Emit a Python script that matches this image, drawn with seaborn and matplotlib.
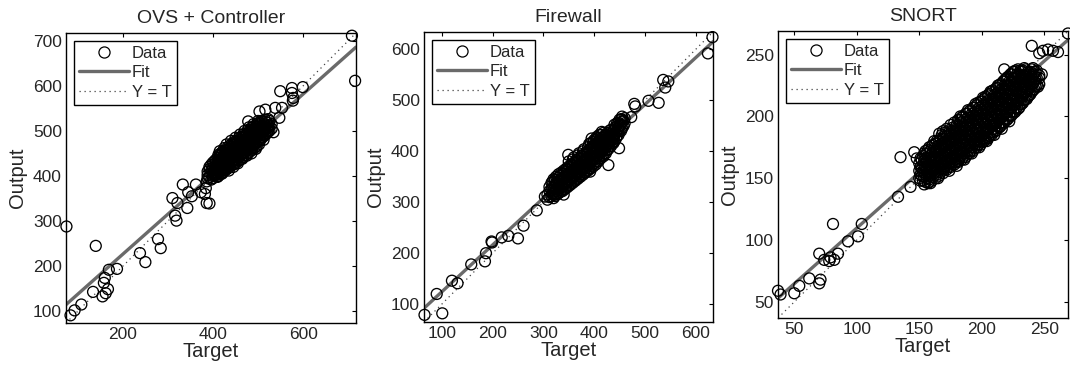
import numpy as np
import pandas as pd
import matplotlib
matplotlib.use("Agg")
import matplotlib.pyplot as plt
from matplotlib.lines import Line2D
import seaborn as sns

# ---------------- data ----------------
titles = ["OVS + Controller", "Firewall", "SNORT"]

# OVS + Controller : (target, output)
ovs_pairs = [
    (388, 395), (388, 402), (388, 410), (392, 398), (392, 415), (392, 420),
    (396, 392), (396, 405), (396, 425), (396, 412), (400, 400), (400, 408),
    (400, 418), (400, 430), (400, 395), (405, 403), (405, 412), (405, 422),
    (405, 435), (410, 405), (410, 415), (410, 426), (410, 440), (410, 398),
    (415, 410), (415, 420), (415, 432), (415, 445), (415, 455), (420, 412),
    (420, 424), (420, 436), (420, 448), (420, 405), (425, 418), (425, 428),
    (425, 440), (425, 452), (425, 462), (430, 420), (430, 432), (430, 444),
    (430, 456), (430, 470), (435, 425), (435, 437), (435, 448), (435, 460),
    (435, 412), (440, 428), (440, 440), (440, 452), (440, 465), (440, 478),
    (445, 432), (445, 444), (445, 456), (445, 468), (445, 420), (450, 436),
    (450, 448), (450, 460), (450, 472), (450, 485), (455, 440), (455, 452),
    (455, 464), (455, 476), (455, 428), (460, 444), (460, 456), (460, 468),
    (460, 480), (460, 492), (465, 448), (465, 460), (465, 472), (465, 484),
    (465, 438), (470, 452), (470, 464), (470, 476), (470, 488), (470, 500),
    (475, 456), (475, 468), (475, 480), (475, 492), (475, 445), (480, 460),
    (480, 472), (480, 484), (480, 496), (480, 508), (485, 462), (485, 476),
    (485, 488), (485, 500), (485, 450), (490, 468), (490, 480), (490, 492),
    (490, 504), (490, 515), (495, 472), (495, 484), (495, 496), (495, 508),
    (495, 460), (500, 476), (500, 488), (500, 500), (500, 512), (500, 522),
    (505, 480), (505, 492), (505, 504), (505, 516), (510, 486), (510, 498),
    (510, 510), (510, 520), (515, 490), (515, 502), (515, 514), (515, 525),
    (520, 495), (520, 506), (520, 518), (525, 500), (525, 512), (525, 522),
    (530, 505), (530, 515),
    # outliers
    (708, 711), (715, 611), (599, 597), (549, 588), (575, 595), (575, 584),
    (578, 573), (577, 567), (538, 551), (553, 551), (547, 529), (516, 547),
    (503, 543), (534, 497), (478, 521), (362, 381), (333, 381), (310, 351),
    (345, 364), (353, 355), (343, 329), (321, 340), (316, 312), (319, 301),
    (373, 364), (382, 360), (386, 340), (392, 339), (384, 373), (386, 388),
    (408, 403), (75, 288), (140, 245), (278, 260), (284, 240), (238, 229),
    (250, 209), (187, 194), (169, 192), (160, 174), (158, 163), (134, 143),
    (167, 149), (162, 140), (155, 133), (108, 115), (93, 102), (84, 91),
]
# extra rows inside the dense OVS blob: target -> outputs
ovs_fill_rows = {
    402: [404, 414, 425], 407: [398, 408, 418, 430],
    412: [400, 410, 421, 434, 447], 417: [405, 415, 426, 438, 450],
    422: [408, 418, 430, 442, 455], 427: [412, 423, 434, 446, 457],
    432: [416, 426, 438, 450, 463], 437: [420, 431, 442, 454, 467],
    442: [424, 434, 446, 458, 472], 447: [426, 438, 450, 462, 476],
    452: [430, 442, 454, 466, 478], 457: [434, 446, 458, 470, 484],
    462: [438, 450, 462, 474, 486], 467: [442, 454, 466, 478, 492],
    472: [446, 458, 470, 482, 494], 477: [450, 462, 474, 486, 502],
    482: [454, 466, 478, 490, 502], 487: [458, 470, 482, 494, 508],
    492: [462, 474, 486, 498, 510], 497: [466, 478, 490, 502, 516],
    502: [470, 482, 494, 506, 518], 507: [486, 498, 510, 522],
    512: [480, 492, 504, 515], 517: [496, 508, 520], 522: [500, 512, 526],
}

# Firewall : (target, output)
fw_pairs = [
    (308, 305), (308, 315), (312, 310), (312, 322), (312, 330), (316, 312),
    (316, 325), (316, 338), (320, 308), (320, 318), (320, 330), (320, 345),
    (325, 315), (325, 325), (325, 338), (325, 350), (330, 318), (330, 330),
    (330, 342), (330, 355), (335, 322), (335, 334), (335, 346), (335, 358),
    (340, 326), (340, 338), (340, 350), (340, 362), (340, 315), (345, 330),
    (345, 342), (345, 354), (345, 366), (350, 334), (350, 346), (350, 358),
    (350, 370), (350, 380), (355, 338), (355, 350), (355, 362), (355, 374),
    (360, 342), (360, 354), (360, 366), (360, 378), (360, 388), (365, 346),
    (365, 358), (365, 370), (365, 382), (370, 350), (370, 362), (370, 374),
    (370, 386), (370, 396), (375, 355), (375, 366), (375, 378), (375, 390),
    (380, 358), (380, 370), (380, 382), (380, 394), (380, 404), (385, 362),
    (385, 374), (385, 386), (385, 398), (390, 366), (390, 378), (390, 390),
    (390, 402), (390, 414), (395, 372), (395, 384), (395, 396), (395, 408),
    (395, 425), (400, 376), (400, 388), (400, 400), (400, 412), (400, 422),
    (405, 380), (405, 392), (405, 404), (405, 416), (405, 428), (410, 386),
    (410, 398), (410, 410), (410, 420), (410, 432), (415, 392), (415, 404),
    (415, 414), (415, 426), (415, 438), (420, 396), (420, 408), (420, 420),
    (420, 430), (425, 402), (425, 414), (425, 425), (425, 435), (430, 410),
    (430, 420), (430, 430), (430, 440), (435, 415), (435, 425), (435, 435),
    (440, 420), (440, 432), (440, 445), (440, 452), (445, 430), (445, 440),
    (445, 455), (450, 440), (450, 450), (450, 462), (455, 445), (455, 458),
    (455, 468), (460, 455), (460, 465),
    # outliers
    (633, 624), (624, 592), (536, 540), (546, 537), (540, 525), (527, 495),
    (507, 499), (479, 493), (481, 488), (473, 467), (454, 463), (449, 406),
    (428, 373), (392, 360), (349, 393), (287, 284), (303, 311), (261, 254),
    (250, 229), (231, 234), (218, 231), (198, 223), (199, 221), (187, 200),
    (185, 184), (158, 178), (120, 146), (131, 141), (90, 120), (66, 79),
    (101, 82),
]
fw_fill_rows = {
    318: [316, 328, 340], 323: [312, 322, 332, 344], 328: [316, 326, 336, 348],
    333: [320, 328, 340, 352], 338: [322, 332, 344, 356],
    343: [326, 336, 348, 360], 348: [330, 340, 352, 364],
    353: [334, 344, 356, 368], 358: [338, 348, 360, 372, 384],
    363: [342, 352, 364, 376], 368: [346, 356, 368, 380, 392],
    373: [350, 360, 372, 384], 378: [354, 364, 376, 388, 400],
    383: [358, 368, 380, 392], 388: [362, 372, 384, 396, 408],
    393: [366, 378, 390, 402, 416], 398: [370, 382, 394, 406, 418],
    403: [374, 386, 398, 410, 422], 408: [380, 392, 404, 415, 426],
    413: [386, 398, 409, 420, 432], 418: [390, 402, 414, 425, 436],
    423: [396, 408, 419, 430], 428: [404, 415, 425, 436],
    433: [410, 420, 430, 442], 438: [416, 428, 440], 443: [425, 436, 448],
    448: [432, 445, 456], 453: [440, 452, 462], 458: [450, 460],
}

# SNORT : (target, output)
snort_pairs = [
    (150, 150), (150, 156), (150, 162), (153, 148), (153, 155), (153, 161),
    (153, 168), (156, 150), (156, 157), (156, 163), (156, 170), (159, 152),
    (159, 158), (159, 165), (159, 172), (159, 146), (162, 154), (162, 160),
    (162, 167), (162, 174), (162, 180), (165, 156), (165, 162), (165, 169),
    (165, 176), (165, 150), (168, 158), (168, 164), (168, 171), (168, 178),
    (168, 185), (171, 160), (171, 166), (171, 173), (171, 180), (171, 187),
    (174, 162), (174, 168), (174, 175), (174, 182), (174, 189), (174, 156),
    (177, 164), (177, 170), (177, 177), (177, 184), (177, 191), (180, 166),
    (180, 172), (180, 179), (180, 186), (180, 193), (180, 160), (183, 168),
    (183, 174), (183, 181), (183, 188), (183, 195), (183, 200), (186, 170),
    (186, 176), (186, 183), (186, 190), (186, 197), (186, 165), (189, 172),
    (189, 178), (189, 185), (189, 192), (189, 199), (189, 205), (192, 175),
    (192, 181), (192, 188), (192, 195), (192, 202), (192, 170), (195, 177),
    (195, 183), (195, 190), (195, 197), (195, 204), (195, 210), (198, 180),
    (198, 186), (198, 193), (198, 200), (198, 207), (198, 175), (201, 182),
    (201, 188), (201, 195), (201, 202), (201, 209), (201, 215), (204, 185),
    (204, 191), (204, 198), (204, 205), (204, 212), (204, 180), (207, 187),
    (207, 193), (207, 200), (207, 207), (207, 214), (207, 220), (210, 190),
    (210, 196), (210, 203), (210, 210), (210, 217), (210, 185), (213, 192),
    (213, 198), (213, 205), (213, 212), (213, 219), (213, 225), (216, 195),
    (216, 201), (216, 208), (216, 215), (216, 222), (216, 190), (219, 198),
    (219, 204), (219, 211), (219, 218), (219, 225), (219, 230), (222, 201),
    (222, 207), (222, 214), (222, 221), (222, 228), (222, 196), (225, 204),
    (225, 210), (225, 217), (225, 224), (225, 231), (225, 236), (228, 207),
    (228, 213), (228, 220), (228, 227), (228, 234), (231, 210), (231, 216),
    (231, 223), (231, 230), (231, 237), (234, 213), (234, 219), (234, 226),
    (234, 233), (234, 239), (237, 216), (237, 222), (237, 229), (237, 236),
    (240, 220), (240, 226), (240, 232), (240, 238), (243, 224), (243, 230),
    (243, 236), (246, 226), (246, 233),
    # outliers
    (269, 267), (240, 257), (249, 253), (253, 254), (257, 253), (261, 252),
    (246, 251), (218, 238), (248, 234), (246, 231), (245, 224), (135, 167),
    (146, 171), (148, 166), (143, 143), (133, 135), (154, 145), (151, 148),
    (158, 147), (181, 164), (169, 157), (199, 180), (205, 182), (194, 178),
    (81, 113), (104, 113), (101, 103), (93, 99), (70, 89), (85, 89), (74, 84),
    (78, 83), (82, 84), (79, 86), (62, 69), (71, 68), (70, 65), (54, 63),
    (50, 57), (37, 59), (39, 56),
]
snort_fill_rows = {
    152: [152, 158, 165], 155: [147, 153, 159, 166, 172],
    158: [149, 155, 161, 168, 175], 161: [151, 157, 164, 171, 177],
    164: [153, 159, 166, 173, 180], 167: [155, 161, 168, 175, 182],
    170: [157, 163, 170, 177, 184], 173: [159, 165, 172, 179, 186],
    176: [161, 167, 174, 181, 188], 179: [163, 169, 176, 183, 190],
    182: [165, 171, 178, 185, 192, 197], 185: [167, 173, 180, 187, 194, 200],
    188: [169, 175, 182, 189, 196, 202], 191: [172, 178, 185, 192, 199, 205],
    194: [174, 180, 187, 194, 201, 207], 197: [177, 183, 190, 197, 204, 211],
    200: [179, 185, 192, 199, 206, 212], 203: [182, 188, 195, 202, 209, 216],
    206: [184, 190, 197, 204, 211, 218], 209: [187, 193, 200, 207, 214, 221],
    212: [189, 195, 202, 209, 216, 223], 215: [192, 198, 205, 212, 219, 226],
    218: [195, 201, 208, 215, 222, 229], 221: [198, 204, 211, 218, 225, 232],
    224: [201, 207, 214, 221, 228, 234], 227: [204, 210, 217, 224, 231, 237],
    230: [207, 213, 220, 227, 234], 233: [211, 217, 224, 231, 237],
    236: [214, 220, 227, 234], 239: [218, 224, 230, 236], 242: [222, 228, 234],
}
snort_fill_rows_2 = {
    151: [153, 159, 166], 154: [151, 157, 164, 170],
    157: [146, 153, 160, 166, 173], 160: [148, 155, 162, 169, 176],
    163: [150, 157, 164, 171, 178], 166: [152, 159, 166, 173, 180, 186],
    169: [154, 161, 168, 175, 182, 188], 172: [157, 163, 170, 177, 184, 190],
    175: [159, 165, 172, 179, 186, 193], 178: [161, 167, 174, 181, 188, 195],
    181: [163, 169, 176, 183, 190, 197], 184: [165, 171, 178, 185, 192, 199],
    187: [167, 174, 181, 188, 195, 202], 190: [170, 176, 183, 190, 197, 204],
    193: [172, 179, 186, 193, 200, 207], 196: [175, 181, 188, 195, 202, 209],
    199: [177, 184, 191, 198, 205, 212], 202: [180, 186, 193, 200, 207, 214],
    205: [183, 189, 196, 203, 210, 217], 208: [185, 192, 199, 206, 213, 220],
    211: [188, 194, 201, 208, 215, 222], 214: [191, 197, 204, 211, 218, 225],
    217: [194, 200, 207, 214, 221, 228], 220: [197, 203, 210, 217, 224, 231],
    223: [200, 206, 213, 220, 227, 234], 226: [203, 209, 216, 223, 230, 236],
    229: [206, 212, 219, 226, 233, 238], 232: [210, 216, 222, 229, 236],
    235: [214, 220, 226, 232, 238], 238: [217, 223, 229, 235],
    241: [221, 227, 233, 239], 244: [225, 231, 237],
}

fit_slope = [0.888, 0.919, 0.900]
fit_intercept = [49.0, 32.3, 19.7]
axis_limits = [(74, 717), (65, 634), (37, 269)]
tick_values = [
    ([200, 400, 600], [100, 200, 300, 400, 500, 600, 700]),
    ([100, 200, 300, 400, 500, 600], [100, 200, 300, 400, 500, 600]),
    ([50, 100, 150, 200, 250], [50, 100, 150, 200, 250]),
]


def build_frame(pairs, *fill_sets):
    rows = list(pairs)
    for fill_rows in fill_sets:
        for tv, outs in fill_rows.items():
            rows.extend((tv, ov) for ov in outs)
    return pd.DataFrame(rows, columns=["Target", "Output"])


frames = [build_frame(ovs_pairs, ovs_fill_rows),
          build_frame(fw_pairs, fw_fill_rows),
          build_frame(snort_pairs, snort_fill_rows, snort_fill_rows_2)]

# ---------------- style ----------------
sns.set_style("white")
plt.rcParams["font.family"] = ["Liberation Sans", "DejaVu Sans"]

fig = plt.figure(figsize=(10.70, 3.72), dpi=100)
W, H = 1070.0, 372.0
# axes boxes in pixels: left, top, right, bottom
boxes = [(66, 33, 356, 323), (424, 32, 713, 322), (778, 31, 1068, 318)]

fit_color = "#6a6a6a"
for i, df in enumerate(frames):
    l, t, r, b = boxes[i]
    ax = fig.add_axes([l / W, 1 - b / H, (r - l) / W, (b - t) / H])
    lo, hi = axis_limits[i]
    line_df = pd.DataFrame({"x": [lo, hi]})
    line_df["fit"] = fit_slope[i] * line_df["x"] + fit_intercept[i]
    line_df["ident"] = line_df["x"]

    sns.lineplot(data=line_df, x="x", y="ident", ax=ax, color="#444444",
                 linestyle=(0, (1, 3)), linewidth=0.9, zorder=2)
    sns.lineplot(data=line_df, x="x", y="fit", ax=ax, color=fit_color,
                 linewidth=2.4, zorder=2)
    sns.scatterplot(data=df, x="Target", y="Output", ax=ax, marker="o", s=62,
                    facecolor="none", edgecolor="black", linewidth=0.95,
                    zorder=3, clip_on=False)

    ax.set_xlim(lo, hi)
    ax.set_ylim(lo, hi)
    ax.set_xticks(tick_values[i][0])
    ax.set_yticks(tick_values[i][1])
    ax.tick_params(direction="in", top=True, right=True, length=3,
                   width=0.8, labelsize=12.5, color="black", pad=3)
    for sp in ax.spines.values():
        sp.set_color("black")
        sp.set_linewidth(1.0)
        sp.set_visible(True)
    ax.set_title(titles[i], fontsize=14, pad=7)
    ax.set_xlabel("Target", fontsize=14.5, labelpad=0)
    ax.set_ylabel("Output", fontsize=14.5, labelpad=4)

    handles = [
        Line2D([], [], linestyle="none", marker="o", markersize=8,
               markerfacecolor="none", markeredgecolor="black",
               markeredgewidth=0.9),
        Line2D([], [], color=fit_color, linewidth=2.4),
        Line2D([], [], color="#444444", linestyle=(0, (1, 3)), linewidth=0.9),
    ]
    leg = ax.legend(handles, ["Data", "Fit", "Y = T"], loc="upper left",
                    fontsize=12, frameon=True, fancybox=False,
                    handlelength=3.0, handletextpad=0.2, labelspacing=0.28,
                    borderpad=0.3, borderaxespad=0.45, framealpha=1)
    leg.get_frame().set_edgecolor("black")
    leg.get_frame().set_linewidth(1.0)
    leg.set_zorder(5)

fig.savefig("out.png", dpi=100)
